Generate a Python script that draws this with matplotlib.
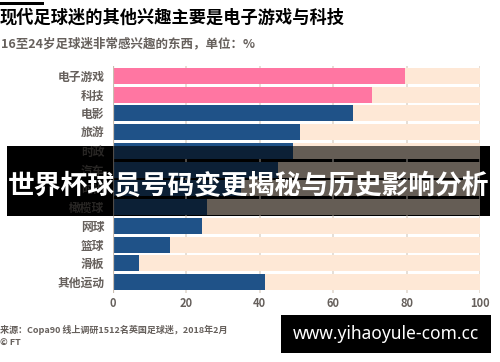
import matplotlib
matplotlib.use("Agg")
import matplotlib.pyplot as plt
from matplotlib.patches import Rectangle

plt.rcParams['font.family'] = ['Noto Sans CJK SC', 'DejaVu Sans']

categories = ["电子游戏", "科技", "电影", "旅游", "时政", "汽车", "时尚",
              "橄榄球", "网球", "篮球", "滑板", "其他运动"]
values = [79.5, 70.5, 65.5, 51, 49, 45, 35, 25.8, 24.2, 15.6, 7.2, 41.6]
highlight = [True, True] + [False] * 10
xticks = [0, 20, 40, 60, 80, 100]

title = "现代足球迷的其他兴趣主要是电子游戏与科技"
subtitle = "16至24岁足球迷非常感兴趣的东西，单位：%"
source = "来源：Copa90 线上调研1512名英国足球迷，2018年2月"
credit = "© FT"
banner = "世界杯球员号码变更揭秘与历史影响分析"
watermark = "www.yihaoyule-com.cc"

PINK = "#ff76a2"
NAVY = "#1f5288"
PEACH = "#fee8d6"
GREY = "#66605c"
W, H = 500, 362

fig = plt.figure(figsize=(5, 3.62), dpi=100)
fig.patch.set_facecolor("white")

def fx(x):
    return x / W

def fy(y):
    return 1 - y / H

# black underlay of the banner band (drawn behind the axes)
fig.patches.append(Rectangle((fx(7), fy(216)), fx(490) - fx(7), (216 - 146) / H,
                             transform=fig.transFigure, facecolor="black",
                             edgecolor="none", zorder=-1))

ax = fig.add_axes([fx(112.7), fy(292.5), fx(480) - fx(112.7), (292.5 - 65.5) / H])
ax.set_facecolor("none")
ypos = list(range(len(categories)))
ax.barh(ypos, [100] * len(categories), height=0.86, color=PEACH, zorder=1)
ax.barh(ypos, values, height=0.86,
        color=[PINK if h else NAVY for h in highlight], zorder=2)
for x in xticks[1:]:
    ax.axvline(x, color="#e2d9cf", lw=1.2, zorder=0.5)
ax.axvline(0, color="#c9bdb1", lw=1.6, zorder=3)
ax.set_xlim(0, 100)
ax.set_ylim(len(categories) - 0.45, -0.55)
ax.set_yticks(ypos)
ax.set_yticklabels(categories, fontsize=8.5, color=GREY, fontweight="bold")
ax.set_xticks(xticks)
ax.set_xticklabels([str(t) for t in xticks], fontsize=8, color=GREY, fontweight="bold")
ax.tick_params(length=0)
ax.tick_params(axis="y", pad=6)
ax.tick_params(axis="x", pad=3.5)
for s in ax.spines.values():
    s.set_visible(False)

# header
fig.patches.append(Rectangle((0, fy(5)), fx(44), 3 / H, transform=fig.transFigure,
                             facecolor="black", edgecolor="none", zorder=1))
fig.text(fx(0), fy(17.5), title, fontsize=12.4, fontweight="heavy", color="black",
         ha="left", va="center")
fig.text(fx(0.5), fy(44), subtitle, fontsize=9, fontweight="bold", color=GREY,
         ha="left", va="center")
fig.text(fx(0.5), fy(330), source, fontsize=6.5, fontweight="bold", color=GREY,
         ha="left", va="center")
fig.text(fx(0.5), fy(343), credit, fontsize=6.5, fontweight="bold", color=GREY,
         ha="left", va="center")

# banner overlay
fig.patches.append(Rectangle((fx(7), fy(216)), fx(490) - fx(7), (216 - 146) / H,
                             transform=fig.transFigure, facecolor="black", alpha=0.6,
                             edgecolor="none", zorder=5))
fig.text(fx(248.5), fy(186), banner, fontsize=19.3, fontweight="bold", color="white",
         ha="center", va="center", zorder=6)

# watermark box
fig.patches.append(Rectangle((fx(281), fy(353)), fx(491) - fx(281), (353 - 315) / H,
                             transform=fig.transFigure, facecolor="black",
                             edgecolor="none", zorder=5))
fig.text(fx(386), fy(334), watermark, fontsize=12.5, color="white",
         family=["Noto Sans", "DejaVu Sans"], fontweight="medium",
         ha="center", va="center", zorder=6)

fig.savefig("out.png", dpi=100)
